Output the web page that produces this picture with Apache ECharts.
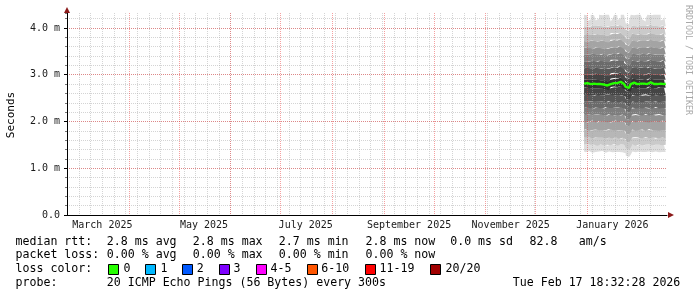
<!DOCTYPE html>
<html><head><meta charset="utf-8">
<script src="https://cdn.jsdelivr.net/npm/echarts@6.0.0/dist/echarts.min.js"></script>
<style>html,body{margin:0;padding:0;background:#fff}#c{width:697px;height:297px}</style>
</head><body><div id="c"></div>
<script>
// ---------- DATA ----------
const days = ['2025-12-30','2025-12-31',
 '2026-01-01','2026-01-02','2026-01-03','2026-01-04','2026-01-05','2026-01-06','2026-01-07','2026-01-08',
 '2026-01-09','2026-01-10','2026-01-11','2026-01-12','2026-01-13','2026-01-14','2026-01-15','2026-01-16',
 '2026-01-17','2026-01-18','2026-01-19','2026-01-20','2026-01-21','2026-01-22','2026-01-23','2026-01-24',
 '2026-01-25','2026-01-26','2026-01-27','2026-01-28','2026-01-29','2026-01-30','2026-01-31',
 '2026-02-01','2026-02-02','2026-02-03','2026-02-04','2026-02-05','2026-02-06','2026-02-07','2026-02-08',
 '2026-02-09','2026-02-10','2026-02-11','2026-02-12','2026-02-13','2026-02-14','2026-02-15','2026-02-16','2026-02-17'];

// sorted ping round-trip times per day (ms), lowest (ping01) to highest (ping20)
const ping01 = [1.36,1.34,1.35,1.37,1.35,1.33,1.36,1.35,1.34,1.36, 1.35,1.37,1.34,1.33,1.35,1.36,1.35,1.34,1.36,1.35, 1.33,1.35,1.36,1.34,1.32,1.27,1.24,1.29,1.34,1.36, 1.35,1.34,1.35,1.36,1.34,1.35,1.37,1.35,1.34,1.36, 1.35,1.34,1.35,1.36,1.35,1.34,1.36,1.35,1.34,1.35];
const ping02 = [1.50,1.49,1.51,1.52,1.50,1.49,1.50,1.51,1.48,1.50, 1.51,1.52,1.49,1.48,1.50,1.51,1.49,1.50,1.52,1.49, 1.48,1.50,1.51,1.50,1.46,1.42,1.39,1.44,1.49,1.51, 1.50,1.48,1.50,1.51,1.50,1.49,1.52,1.50,1.48,1.51, 1.50,1.49,1.51,1.50,1.49,1.50,1.51,1.49,1.50,1.50];
const ping03 = [1.66,1.65,1.63,1.66,1.67,1.64,1.65,1.66,1.64,1.65, 1.67,1.65,1.63,1.64,1.66,1.65,1.67,1.64,1.65,1.66, 1.64,1.63,1.66,1.65,1.62,1.57,1.55,1.60,1.64,1.66, 1.65,1.67,1.64,1.65,1.66,1.64,1.65,1.67,1.65,1.64, 1.66,1.65,1.63,1.65,1.66,1.64,1.65,1.66,1.65,1.64];
const ping04 = [1.82,1.84,1.81,1.80,1.83,1.82,1.81,1.83,1.84,1.81, 1.82,1.80,1.83,1.81,1.82,1.84,1.81,1.82,1.83,1.80, 1.82,1.81,1.83,1.82,1.79,1.74,1.72,1.77,1.81,1.83, 1.82,1.80,1.83,1.82,1.81,1.83,1.82,1.80,1.82,1.84, 1.81,1.82,1.83,1.81,1.82,1.80,1.83,1.82,1.81,1.82];
const ping05 = [2.00,1.98,2.01,2.00,1.99,2.02,2.00,1.98,2.00,2.01, 1.99,2.00,2.02,1.99,2.00,1.98,2.01,2.00,1.99,2.02, 2.00,1.99,2.00,2.01,1.97,1.92,1.90,1.95,1.99,2.01, 2.00,1.98,2.00,2.01,1.99,2.00,2.02,1.99,2.00,1.98, 2.01,2.00,1.99,2.00,2.01,1.99,2.00,2.02,2.00,1.99];
const ping06 = [2.15,2.14,2.13,2.15,2.16,2.14,2.13,2.15,2.14,2.16, 2.13,2.14,2.15,2.13,2.14,2.16,2.14,2.13,2.15,2.14, 2.16,2.13,2.14,2.15,2.11,2.06,2.04,2.09,2.13,2.15, 2.14,2.16,2.13,2.14,2.15,2.13,2.14,2.16,2.14,2.13, 2.15,2.14,2.13,2.15,2.14,2.16,2.13,2.14,2.15,2.14];
const ping07 = [2.29,2.30,2.28,2.29,2.31,2.28,2.29,2.30,2.28,2.29, 2.30,2.28,2.29,2.31,2.28,2.29,2.30,2.29,2.28,2.30, 2.29,2.31,2.28,2.29,2.26,2.21,2.19,2.24,2.28,2.30, 2.29,2.28,2.30,2.29,2.31,2.28,2.29,2.30,2.28,2.29, 2.30,2.28,2.29,2.31,2.29,2.28,2.30,2.29,2.28,2.29];
const ping08 = [2.43,2.42,2.41,2.43,2.42,2.44,2.41,2.42,2.43,2.42, 2.41,2.43,2.42,2.41,2.43,2.44,2.42,2.41,2.43,2.42, 2.44,2.41,2.43,2.42,2.39,2.34,2.32,2.37,2.41,2.43, 2.42,2.41,2.43,2.42,2.44,2.41,2.42,2.43,2.41,2.42, 2.44,2.42,2.41,2.43,2.42,2.41,2.43,2.42,2.41,2.42];
const ping09 = [2.56,2.57,2.55,2.56,2.58,2.55,2.56,2.57,2.55,2.56, 2.57,2.56,2.55,2.57,2.56,2.58,2.55,2.56,2.57,2.56, 2.58,2.55,2.57,2.56,2.53,2.48,2.46,2.51,2.55,2.57, 2.56,2.55,2.57,2.56,2.55,2.57,2.56,2.58,2.55,2.56, 2.57,2.55,2.56,2.57,2.56,2.55,2.57,2.56,2.55,2.56];
const ping10 = [2.72,2.73,2.71,2.71,2.72,2.71,2.72,2.71,2.72,2.71, 2.72,2.70,2.71,2.68,2.67,2.71,2.74,2.73,2.75,2.73, 2.74,2.76,2.72,2.71,2.68,2.65,2.63,2.64,2.71,2.74, 2.73,2.71,2.72,2.71,2.72,2.71,2.72,2.71,2.72,2.75, 2.72,2.71,2.72,2.71,2.72,2.73,2.71,2.72,2.71,2.72];
const ping11 = [2.89,2.90,2.88,2.89,2.90,2.89,2.88,2.89,2.90,2.88, 2.89,2.88,2.89,2.86,2.85,2.89,2.92,2.91,2.93,2.91, 2.92,2.94,2.90,2.89,2.86,2.83,2.81,2.83,2.89,2.92, 2.91,2.89,2.90,2.89,2.88,2.90,2.89,2.88,2.89,2.92, 2.90,2.89,2.88,2.89,2.90,2.89,2.88,2.89,2.90,2.89];
const ping12 = [3.01,3.00,3.02,3.00,2.99,3.01,3.00,3.02,3.00,3.01, 2.99,3.00,3.01,2.98,2.97,3.00,3.03,3.02,3.04,3.02, 3.03,3.05,3.01,3.00,2.97,2.93,2.91,2.94,3.00,3.03, 3.01,3.00,3.02,3.00,3.01,2.99,3.00,3.01,3.00,3.03, 3.01,3.00,3.02,3.00,3.01,2.99,3.00,3.01,3.00,3.01];
const ping13 = [3.14,3.15,3.13,3.14,3.16,3.14,3.13,3.15,3.14,3.13, 3.15,3.14,3.13,3.12,3.11,3.14,3.17,3.16,3.17,3.15, 3.17,3.18,3.15,3.14,3.10,3.06,3.04,3.08,3.14,3.16, 3.15,3.14,3.13,3.15,3.14,3.16,3.13,3.14,3.15,3.17, 3.14,3.13,3.15,3.14,3.16,3.14,3.13,3.15,3.14,3.13];
const ping14 = [3.29,3.28,3.30,3.29,3.28,3.30,3.31,3.28,3.29,3.30, 3.28,3.29,3.30,3.27,3.26,3.29,3.32,3.31,3.32,3.30, 3.32,3.33,3.29,3.30,3.25,3.21,3.19,3.23,3.29,3.31, 3.30,3.28,3.29,3.30,3.28,3.29,3.31,3.29,3.28,3.32, 3.29,3.30,3.28,3.29,3.30,3.28,3.29,3.31,3.29,3.28];
const ping15 = [3.44,3.43,3.42,3.44,3.43,3.45,3.42,3.43,3.44,3.42, 3.43,3.45,3.43,3.41,3.40,3.43,3.46,3.45,3.46,3.44, 3.46,3.47,3.44,3.43,3.39,3.35,3.33,3.37,3.43,3.45, 3.44,3.43,3.42,3.44,3.43,3.45,3.42,3.43,3.44,3.46, 3.43,3.42,3.44,3.43,3.45,3.43,3.42,3.44,3.43,3.44];
const ping16 = [3.57,3.58,3.56,3.57,3.59,3.56,3.57,3.58,3.56,3.57, 3.58,3.56,3.57,3.55,3.54,3.57,3.60,3.59,3.60,3.58, 3.60,3.61,3.58,3.57,3.53,3.49,3.47,3.51,3.57,3.59, 3.58,3.56,3.57,3.58,3.56,3.57,3.59,3.57,3.56,3.60, 3.57,3.58,3.56,3.57,3.58,3.56,3.57,3.59,3.57,3.56];
const ping17 = [3.72,3.71,3.73,3.72,3.70,3.73,3.72,3.71,3.73,3.72, 3.71,3.73,3.72,3.70,3.69,3.72,3.75,3.74,3.75,3.73, 3.75,3.76,3.72,3.71,3.68,3.64,3.62,3.66,3.72,3.74, 3.73,3.71,3.72,3.73,3.71,3.72,3.74,3.72,3.71,3.75, 3.72,3.73,3.71,3.72,3.73,3.71,3.72,3.74,3.72,3.71];
const ping18 = [3.86,3.87,3.85,3.86,3.88,3.85,3.86,3.87,3.85,3.86, 3.88,3.85,3.86,3.84,3.83,3.86,3.89,3.88,3.89,3.87, 3.89,3.90,3.86,3.85,3.82,3.78,3.76,3.80,3.86,3.88, 3.87,3.85,3.86,3.87,3.85,3.86,3.88,3.86,3.85,3.89, 3.86,3.87,3.85,3.86,3.87,3.85,3.86,3.88,3.86,3.85];
const ping19 = [4.04,4.02,4.05,4.03,4.04,4.06,4.03,4.04,4.02,4.05, 4.04,4.03,4.05,4.02,4.01,4.04,4.07,4.05,4.06,4.04, 4.06,4.07,4.04,4.03,4.00,3.96,3.94,3.98,4.04,4.06, 4.05,4.03,4.04,4.05,4.03,4.04,4.06,4.04,4.03,4.07, 4.04,4.05,4.03,4.04,4.05,4.03,4.04,4.06,4.04,4.03];
const ping20 = [4.28,4.27,4.15,4.18,4.28,4.27,4.28,4.16,4.20,4.28, 4.27,4.28,4.28,4.27,4.28,4.28,4.14,4.19,4.28,4.27, 4.17,4.21,4.28,4.28,4.27,4.10,4.08,4.15,4.28,4.27, 4.28,4.28,4.27,4.28,4.28,4.18,4.14,4.20,4.28,4.27, 4.28,4.28,4.27,4.28,4.28,4.28,4.16,4.19,4.28,4.27];
const medianRtt = [2.81,2.82,2.80,2.80,2.80,2.81,2.80,2.80,2.80,2.80, 2.80,2.79,2.80,2.77,2.76,2.80,2.83,2.82,2.84,2.82, 2.84,2.85,2.81,2.80,2.76,2.74,2.72,2.74,2.80,2.83, 2.82,2.80,2.80,2.81,2.80,2.81,2.80,2.80,2.80,2.84, 2.81,2.80,2.80,2.80,2.80,2.81,2.80,2.80,2.81,2.80];

// axes
const rangeStart = '2025-02-22T18:32:28Z';
const rangeEnd   = '2026-02-17T18:32:28Z';
const yMax = 4.32;
const yTickValues = [0, 1, 2, 3, 4];
const yTickLabels = ['0.0', '1.0 m', '2.0 m', '3.0 m', '4.0 m'];
const monthLines = ['2025-03-01','2025-04-01','2025-05-01','2025-06-01','2025-07-01','2025-08-01',
  '2025-09-01','2025-10-01','2025-11-01','2025-12-01','2026-01-01','2026-02-01'];
const xLabelDates = ['2025-03-16','2025-05-16','2025-07-16','2025-09-16','2025-11-16','2026-01-16'];
const xTickLabels = ['March 2025','May 2025','July 2025','September 2025','November 2025','January 2026'];
const firstWeekLine = '2025-02-23';

// texts
const yTitle = 'Seconds';
const watermark = 'RRDTOOL / TOBI OETIKER';
const rowLabels = ['median rtt:', 'packet loss:', 'loss color:', 'probe:'];
const rttStats = ['2.8 ms avg', '2.8 ms max', '2.7 ms min', '2.8 ms now', '0.0 ms sd', '82.8', 'am/s'];
const lossStats = ['0.00 % avg', '0.00 % max', '0.00 % min', '0.00 % now'];
const lossNames = ['0', '1', '2', '3', '4-5', '6-10', '11-19', '20/20'];
const lossColors = ['#26ff00', '#00b8ff', '#0059ff', '#7e00ff', '#ff00ff', '#ff5500', '#ff0000', '#a10000'];
const probeText = '20 ICMP Echo Pings (56 Bytes) every 300s';
const dateText = 'Tue Feb 17 18:32:28 2026';

// ---------- BUILD ----------
function ts(s) { return Date.parse(s.length === 10 ? s + 'T00:00:00Z' : s); }
const xMin = ts(rangeStart), xMax = ts(rangeEnd);
const weekLines = [];
for (let t = ts(firstWeekLine); t < xMax; t += 7 * 86400000) weekLines.push(t);
const monthVals = monthLines.map(ts);
const labelVals = xLabelDates.map(ts);
const FONT = '"DejaVu Sans Mono", monospace';
const minorColor = 'rgba(170,170,170,0.5)';
const majorColor = 'rgba(232,45,45,0.45)';
const arrowColor = '#8b1a1a';

const pings = [ping01,ping02,ping03,ping04,ping05,ping06,ping07,ping08,ping09,ping10,
               ping11,ping12,ping13,ping14,ping15,ping16,ping17,ping18,ping19,ping20];
const half = 10;
function bandColor(k) { // band between ping k and ping k+1 (1-based k)
  const j = Math.min(k, 20 - k);
  const g = Math.round(190 / half * (half - j) + 50);
  return 'rgb(' + g + ',' + g + ',' + g + ')';
}
const series = [];
series.push({
  type: 'line', xAxisIndex: 3, yAxisIndex: 3, stack: 'smoke', step: 'end', symbol: 'none',
  lineStyle: { width: 0 }, z: 1, silent: true,
  data: days.map((d, i) => [ts(d), pings[0][i]])
});
for (let k = 1; k < 20; k++) {
  series.push({
    type: 'line', xAxisIndex: 3, yAxisIndex: 3, stack: 'smoke', step: 'end', symbol: 'none',
    lineStyle: { width: 0 }, areaStyle: { color: bandColor(k), opacity: 1 }, z: 1, silent: true,
    data: days.map((d, i) => [ts(d), +(pings[k][i] - pings[k - 1][i]).toFixed(4)])
  });
}
series.push({
  type: 'line', xAxisIndex: 3, yAxisIndex: 3, step: 'end', symbol: 'none', z: 6, silent: true,
  lineStyle: { color: lossColors[0], width: 2.4 },
  data: days.map((d, i) => [ts(d), medianRtt[i]])
});

const graphics = [];
function txt(x, y, s, extra) {
  return Object.assign({ type: 'text', x: x, y: y, silent: true,
    style: Object.assign({ text: s, font: '11.6px ' + FONT, fill: '#000',
      textAlign: 'left', textVerticalAlign: 'middle' }, extra || {}) });
}
const rowY = [241.5, 255, 268.8, 282.5];
rowLabels.forEach((s, i) => graphics.push(txt(15.5, rowY[i], s)));
const rttX = [106.8, 192.8, 278.8, 365.5, 450.2, 529.5, 578.8];
rttStats.forEach((s, i) => graphics.push(txt(rttX[i], rowY[0], s)));
const lossX = [106.8, 192.8, 278.8, 365.5];
lossStats.forEach((s, i) => graphics.push(txt(lossX[i], rowY[1], s)));
const boxX = [108.5, 145.5, 182.5, 219.5, 256.5, 307.5, 365.5, 430.5];
const boxLabelX = [123.5, 160.5, 196.8, 233.5, 270.5, 321.3, 379.5, 445.5];
lossNames.forEach((s, i) => {
  graphics.push({ type: 'rect', x: boxX[i], y: 264.5, silent: true,
    shape: { x: 0, y: 0, width: 10, height: 10 },
    style: { fill: lossColors[i], stroke: '#000', lineWidth: 1 } });
  graphics.push(txt(boxLabelX[i], rowY[2], s));
});
graphics.push(txt(106.8, rowY[3], probeText));
graphics.push(txt(512.8, rowY[3], dateText));
graphics.push({ type: 'text', x: 11, y: 115, rotation: Math.PI / 2, silent: true,
  style: { text: yTitle, font: '11px ' + FONT, fill: '#000', textAlign: 'center', textVerticalAlign: 'middle' } });
graphics.push({ type: 'text', x: 688, y: 5, rotation: -Math.PI / 2, silent: true,
  style: { text: watermark, font: '8.3px ' + FONT, fill: '#a8a8a8', textAlign: 'left', textVerticalAlign: 'middle' } });

const hidden = { axisLine: { show: false }, axisTick: { show: false }, axisLabel: { show: false },
  splitLine: { show: false }, splitArea: { show: false }, minorSplitLine: { show: false }, minorTick: { show: false } };

const option = {
  backgroundColor: '#ffffff',
  animation: false,
  grid: { left: 67, right: 30, top: 13, bottom: 82, containLabel: false },
  xAxis: [
    { type: 'value', min: xMin, max: xMax, position: 'bottom', z: 3,
      axisLine: { show: false }, axisLabel: { show: false },
      axisTick: { show: false, customValues: weekLines },
      splitLine: { show: true, showMinLine: false, showMaxLine: false, lineStyle: { color: minorColor, width: 1, type: [1, 1] } } },
    { type: 'value', min: xMin, max: xMax, position: 'bottom', z: 4,
      axisLine: { show: true, onZero: false, lineStyle: { color: '#000', width: 1 } },
      axisTick: { show: false, customValues: monthVals },
      axisLabel: { show: true, customValues: labelVals, margin: 5, fontFamily: FONT, fontSize: 10, color: '#1a1a1a',
        formatter: v => { const i = labelVals.indexOf(v); return i >= 0 ? xTickLabels[i] : ''; } },
      splitLine: { show: true, showMinLine: false, showMaxLine: false, lineStyle: { color: majorColor, width: 1, type: [1, 1] } } },
    { type: 'value', min: xMin, max: xMax, position: 'bottom', z: 5,
      axisLine: { show: true, onZero: false, symbol: ['none', 'triangle'], symbolSize: [6, 6], symbolOffset: [0, 4],
        lineStyle: { color: arrowColor, width: 0 } },
      axisTick: { show: false }, axisLabel: { show: false }, splitLine: { show: false } },
    Object.assign({ type: 'time', min: xMin, max: xMax, position: 'bottom' }, hidden)
  ],
  yAxis: [
    { type: 'value', min: 0, max: yMax, interval: 1, position: 'left', z: 4,
      axisLine: { show: true, onZero: false, lineStyle: { color: '#000', width: 1 } },
      axisTick: { show: true, length: 3, lineStyle: { color: '#000' } },
      axisLabel: { margin: 7, fontFamily: FONT, fontSize: 10, color: '#1a1a1a', showMaxLabel: false,
        formatter: v => { const i = yTickValues.indexOf(v); return i >= 0 ? yTickLabels[i] : ''; } },
      splitLine: { show: true, showMinLine: false, showMaxLine: false, lineStyle: { color: majorColor, width: 1, type: [1, 1] } } },
    { type: 'value', min: 0, max: yMax, interval: 0.2, position: 'left', z: 3,
      axisLine: { show: false }, axisLabel: { show: false },
      axisTick: { show: true, length: 2, lineStyle: { color: '#777' } },
      splitLine: { show: true, showMinLine: false, showMaxLine: false, lineStyle: { color: minorColor, width: 1, type: [1, 1] } } },
    { type: 'value', min: 0, max: yMax, position: 'left', z: 5,
      axisLine: { show: true, onZero: false, symbol: ['none', 'triangle'], symbolSize: [6, 6], symbolOffset: [0, 3],
        lineStyle: { color: arrowColor, width: 0 } },
      axisTick: { show: false }, axisLabel: { show: false }, splitLine: { show: false } },
    Object.assign({ type: 'value', min: 0, max: yMax, position: 'left' }, hidden)
  ],
  series: series,
  graphic: { elements: graphics }
};
const chart = echarts.init(document.getElementById('c'), null, { renderer: 'canvas' });
chart.setOption(option);
</script>
</body></html>
